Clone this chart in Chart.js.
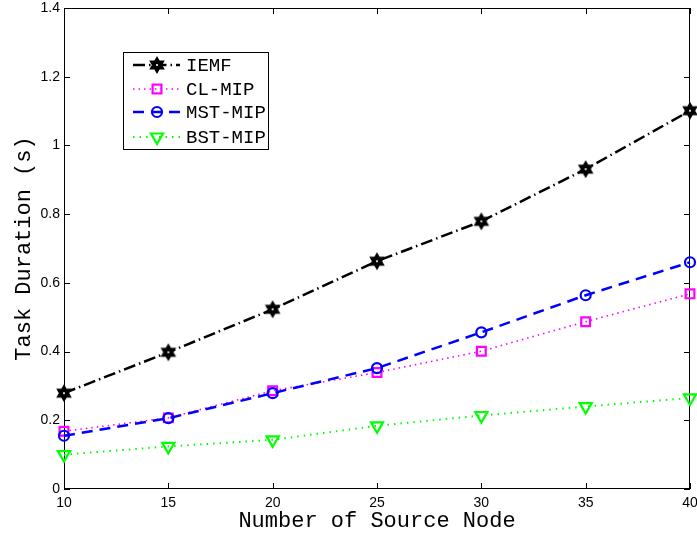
<!DOCTYPE html>
<html>
<head>
<meta charset="utf-8">
<script src="https://cdn.jsdelivr.net/npm/chart.js@4/dist/chart.umd.min.js"></script>
<style>
  html, body { margin: 0; padding: 0; background: #fff; }
  #wrap { width: 697px; height: 538px; }
</style>
</head>
<body>
<div id="wrap"><canvas id="c" width="697" height="538"></canvas></div>
<script>
// ---- Data ----
const sourceNodes = [10, 15, 20, 25, 30, 35, 40];
const iemf   = [0.279, 0.398, 0.523, 0.663, 0.779, 0.931, 1.101];
const clMip  = [0.168, 0.207, 0.286, 0.339, 0.401, 0.487, 0.568];
const mstMip = [0.155, 0.206, 0.279, 0.352, 0.456, 0.564, 0.660];
const bstMip = [0.100, 0.124, 0.143, 0.184, 0.214, 0.240, 0.265];
const seriesNames = ['IEMF', 'CL-MIP', 'MST-MIP', 'BST-MIP'];
const xTitle = 'Number of Source Node';
const yTitle = 'Task Duration (s)';

// ---- Hexagram marker ----
function makeHexagram(R) {
  const s = Math.ceil(R * 2 + 4);
  const cv = document.createElement('canvas');
  cv.width = s; cv.height = s;
  const g = cv.getContext('2d');
  const cx = s / 2, cy = s / 2, r = R / Math.sqrt(3);
  g.beginPath();
  for (let k = 0; k < 12; k++) {
    const ang = (-90 + k * 30) * Math.PI / 180;
    const rad = (k % 2 === 0) ? R : r;
    const px = cx + rad * Math.cos(ang), py = cy + rad * Math.sin(ang);
    if (k === 0) g.moveTo(px, py); else g.lineTo(px, py);
  }
  g.closePath();
  g.fillStyle = '#000'; g.fill();
  g.lineWidth = 1.2; g.strokeStyle = '#000'; g.stroke();
  g.beginPath(); g.arc(cx, cy, 1.1, 0, Math.PI * 2); g.fillStyle = '#fff'; g.fill();
  return cv;
}
const hexImg = makeHexagram(7.8);

const toXY = (arr) => arr.map((v, i) => ({ x: sourceNodes[i], y: v }));

const styles = [
  { color: '#000000', width: 2.5, dash: [12, 4, 1.5, 4], marker: 'hex' },
  { color: '#ff00ff', width: 1.6, dash: [1.5, 4], marker: 'rect' },
  { color: '#0000ff', width: 2.5, dash: [11, 7], marker: 'circle' },
  { color: '#00ff00', width: 2, dash: [1.5, 5], marker: 'tri' }
];

const datasets = [
  {
    label: seriesNames[0], data: toXY(iemf), order: 4,
    borderColor: styles[0].color, borderWidth: styles[0].width, borderDash: styles[0].dash,
    pointStyle: hexImg, pointRadius: 8, pointBorderWidth: 0
  },
  {
    label: seriesNames[1], data: toXY(clMip), order: 3,
    borderColor: styles[1].color, borderWidth: styles[1].width, borderDash: styles[1].dash,
    pointStyle: 'rect', pointRadius: 6.2, pointBorderWidth: 2.2,
    pointBorderColor: styles[1].color, pointBackgroundColor: 'rgba(255,255,255,0)'
  },
  {
    label: seriesNames[2], data: toXY(mstMip), order: 2,
    borderColor: styles[2].color, borderWidth: styles[2].width, borderDash: styles[2].dash,
    pointStyle: 'circle', pointRadius: 5, pointBorderWidth: 2.2,
    pointBorderColor: styles[2].color, pointBackgroundColor: 'rgba(255,255,255,0)'
  },
  {
    label: seriesNames[3], data: toXY(bstMip), order: 1,
    borderColor: styles[3].color, borderWidth: styles[3].width, borderDash: styles[3].dash,
    pointStyle: 'triangle', pointRotation: 180, pointRadius: 7, pointBorderWidth: 2.2,
    pointBorderColor: styles[3].color, pointBackgroundColor: 'rgba(255,255,255,0)'
  }
];
datasets.forEach(d => { d.fill = false; d.tension = 0; d.clip = false; d.pointHoverRadius = d.pointRadius; });

// ---- Plugins ----
const boxPlugin = {
  id: 'boxPlugin',
  beforeDatasetsDraw(chart) {
    const { ctx, chartArea: a, scales } = chart;
    ctx.save();
    ctx.strokeStyle = '#000';
    ctx.lineWidth = 1;
    ctx.strokeRect(Math.round(a.left) + 0.5, Math.round(a.top) + 0.5,
                   Math.round(a.right - a.left) - 1, Math.round(a.bottom - a.top) - 1);
    const tl = 6;
    ctx.beginPath();
    scales.x.ticks.forEach(t => {
      const px = Math.round(scales.x.getPixelForValue(t.value)) + 0.5;
      ctx.moveTo(px, a.bottom); ctx.lineTo(px, a.bottom - tl);
      ctx.moveTo(px, a.top); ctx.lineTo(px, a.top + tl);
    });
    scales.y.ticks.forEach(t => {
      const py = Math.round(scales.y.getPixelForValue(t.value)) + 0.5;
      ctx.moveTo(a.left, py); ctx.lineTo(a.left + tl, py);
      ctx.moveTo(a.right, py); ctx.lineTo(a.right - tl, py);
    });
    ctx.stroke();
    ctx.restore();
  }
};

function drawMarker(ctx, kind, x, y, color) {
  ctx.save();
  ctx.setLineDash([]);
  if (kind === 'hex') {
    ctx.drawImage(hexImg, x - hexImg.width / 2, y - hexImg.height / 2);
  } else if (kind === 'rect') {
    ctx.strokeStyle = color; ctx.lineWidth = 2.2;
    ctx.strokeRect(x - 4.4, y - 4.4, 8.8, 8.8);
  } else if (kind === 'circle') {
    ctx.strokeStyle = color; ctx.lineWidth = 2.2;
    ctx.beginPath(); ctx.arc(x, y, 5, 0, Math.PI * 2); ctx.stroke();
  } else if (kind === 'tri') {
    ctx.strokeStyle = color; ctx.lineWidth = 2.2;
    const r = 7;
    ctx.beginPath();
    for (let k = 0; k < 3; k++) {
      const ang = (90 + k * 120) * Math.PI / 180;
      const px = x + r * Math.cos(ang), py = y + r * Math.sin(ang);
      if (k === 0) ctx.moveTo(px, py); else ctx.lineTo(px, py);
    }
    ctx.closePath(); ctx.stroke();
  }
  ctx.restore();
}

const legendPlugin = {
  id: 'matLegend',
  afterDatasetsDraw(chart) {
    const { ctx } = chart;
    const bx = 123.5, by = 52.5, bw = 145, bh = 97;
    ctx.save();
    ctx.fillStyle = '#fff';
    ctx.fillRect(bx, by, bw, bh);
    ctx.strokeStyle = '#000'; ctx.lineWidth = 1;
    ctx.strokeRect(bx, by, bw, bh);
    const rowsY = [65, 89, 112, 137];
    chart.data.datasets.forEach((ds, i) => {
      const y = rowsY[i];
      const st = styles[i];
      ctx.save();
      ctx.strokeStyle = st.color; ctx.lineWidth = st.width;
      ctx.setLineDash(st.dash);
      ctx.beginPath(); ctx.moveTo(133, y); ctx.lineTo(180, y); ctx.stroke();
      ctx.restore();
      drawMarker(ctx, st.marker, 157, y, st.color);
      ctx.fillStyle = '#000';
      ctx.font = '19px "Liberation Mono", "DejaVu Sans Mono", monospace';
      ctx.textBaseline = 'middle';
      ctx.textAlign = 'left';
      ctx.fillText(ds.label, 186, y + 1);
    });
    ctx.restore();
  }
};

// ---- Chart ----
new Chart(document.getElementById('c'), {
  type: 'line',
  data: { datasets },
  plugins: [boxPlugin, legendPlugin],
  options: {
    responsive: false,
    animation: false,
    events: [],
    layout: { autoPadding: false, padding: { top: 8, right: 7, left: 0, bottom: 0 } },
    plugins: { legend: { display: false }, tooltip: { enabled: false } },
    scales: {
      x: {
        type: 'linear', min: 10, max: 40,
        grid: { display: false, drawTicks: false },
        border: { display: false },
        ticks: {
          stepSize: 5, padding: 7, color: '#000',
          font: { family: '"Liberation Sans", Arial, sans-serif', size: 14, lineHeight: 1 }
        },
        title: {
          display: true, text: xTitle, color: '#000',
          font: { family: '"Liberation Mono", "Courier New", monospace', size: 22, lineHeight: 1.2 },
          padding: { top: 0, bottom: 4 }
        },
        afterFit(scale) { scale.height = 49; scale.paddingLeft = 0; scale.paddingRight = 0; }
      },
      y: {
        type: 'linear', min: 0, max: 1.4,
        grid: { display: false, drawTicks: false },
        border: { display: false },
        ticks: {
          stepSize: 0.2, padding: 4, color: '#000',
          font: { family: '"Liberation Sans", Arial, sans-serif', size: 14, lineHeight: 1 },
          callback: (v) => String(parseFloat(Number(v).toFixed(1)))
        },
        title: {
          display: true, text: yTitle, color: '#000',
          font: { family: '"Liberation Mono", "Courier New", monospace', size: 22, lineHeight: 1.2 },
          padding: { top: 11, bottom: 0 }
        },
        afterFit(scale) { scale.width = 64; scale.paddingTop = 0; scale.paddingBottom = 0; }
      }
    }
  }
});
</script>
</body>
</html>
